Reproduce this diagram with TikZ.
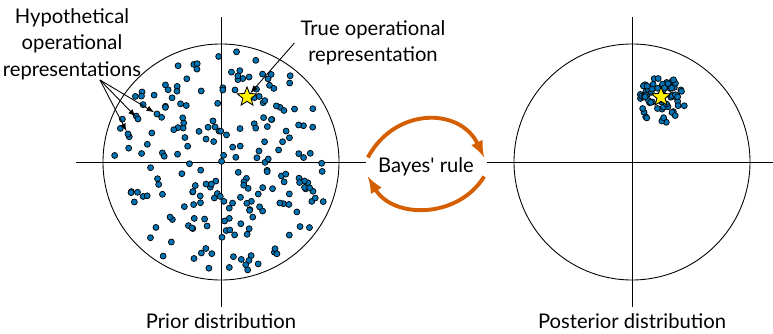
\documentclass[tikz,border=0pt]{standalone}
\usepackage{fontspec}
\setmainfont{Lato}
\newfontfamily\rawlato{Lato}[Ligatures=TeXOff]
\usetikzlibrary{shapes.geometric}
\definecolor{dotblue}{HTML}{0072B2}
\definecolor{bayesorange}{HTML}{D55E00}
\definecolor{staryellow}{HTML}{FFF200}
\tikzset{
  bluedot/.style={draw=black,fill=dotblue,line width=0.4pt},
  dotnode/.style={circle,draw=black,fill=dotblue,line width=0.4pt,inner sep=0pt,minimum size=6*0.02cm},
  lbl/.style={font=\fontsize{11.5}{15}\selectfont,align=center},
  truestarstyle/.style={star,star points=5,star point ratio=2.3,draw=black,fill=staryellow,line width=0.5pt,inner sep=0pt,minimum size=0.4cm},
}
\begin{document}
\begin{tikzpicture}[>=latex,x=0.02cm,y=0.02cm]
	\useasboundingbox (0,0) rectangle (773,334);
	\coordinate (priorc) at (221,172);
	\coordinate (postc) at (632,172);

	% axes and circles
	\draw[line width=0.5pt] (76,172) -- (366,172);
	\draw[line width=0.5pt] (221,27) -- (221,317);
	\draw[line width=0.5pt] (487,172) -- (773,172);
	\draw[line width=0.5pt] (632,27) -- (632,317);
	\draw[line width=0.5pt] (priorc) circle[radius=118];
	\draw[line width=0.5pt] (postc) circle[radius=118];

	% prior samples
	\pgfmathsetseed{7}
	\foreach \i in {1,...,215}{
		\pgfmathsetmacro{\rr}{112*sqrt(rnd)}
		\pgfmathsetmacro{\aa}{360*rnd}
		\draw[bluedot,shift={(priorc)}] (\aa:\rr) circle[radius=3];
	}
	% posterior samples
	\foreach \i in {1,...,70}{
		\pgfmathsetmacro{\rr}{24*sqrt(rnd)}
		\pgfmathsetmacro{\aa}{360*rnd}
		\draw[bluedot,shift={(662,234)}] (\aa:\rr) circle[radius=3];
	}

	\node (hypdot1)[dotnode] at (157,220) {};
	\node (hypdot2)[dotnode] at (138,215) {};
	\node (hypdot3)[dotnode] at (128,200) {};
	\node (truestar)[truestarstyle] at (247,237) {};
	\node (poststar)[truestarstyle] at (661,237) {};

	% labels
	\node (priorlbl)[lbl] at (221,13) {Prior distribution};
	\node (postlbl)[lbl] at (632,13) {Posterior distribution};
	\node (hypo)[lbl] at (72,290) {Hypothetical\\operational\\representations};
	\node (truerep)[lbl] at (373,291) {True operational\\representation};
	\node (bayes)[lbl,inner xsep=0.2cm,inner ysep=0pt,minimum height=18*0.02cm] at (426,167) {Bayes{\rawlato '} rule};
	\coordinate (hypsrc) at (100,254);

	\draw [->,line width=0.5pt] (hypsrc) -- (hypdot1);
	\draw [->,line width=0.5pt] (hypsrc) -- (hypdot2);
	\draw [->,line width=0.5pt] (hypsrc) -- (hypdot3);
	\draw [->,line width=0.5pt] (truerep.west) -- (truestar);

	\draw [->,bayesorange,line width=2.2pt] (bayes.north west) .. controls (395,227) and (460,227) .. (bayes.north east);
	\draw [->,bayesorange,line width=2.2pt] (bayes.south east) .. controls (458,115) and (393,115) .. (bayes.south west);
\end{tikzpicture}
\end{document}
